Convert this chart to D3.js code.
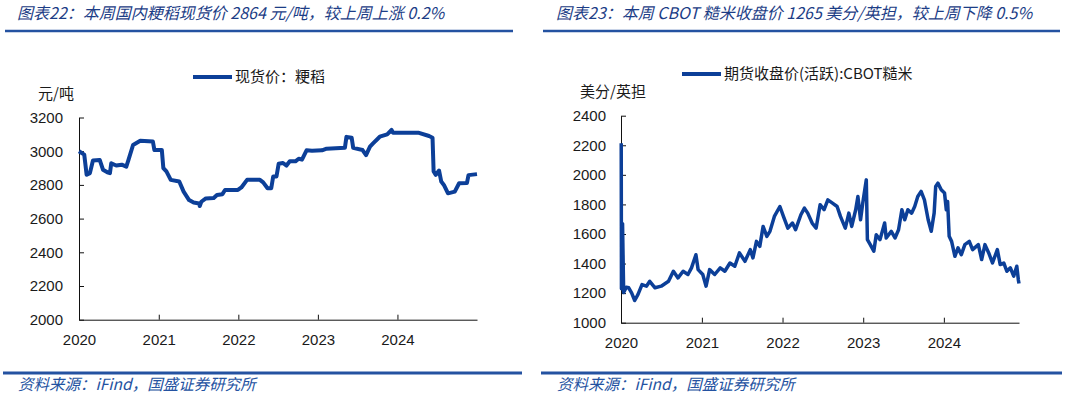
<!DOCTYPE html>
<html>
<head>
<meta charset="utf-8">
<script src="https://cdn.jsdelivr.net/npm/d3@7"></script>
<style>
  body { margin: 0; background: #fff; }
  svg { display: block; }
</style>
</head>
<body>
<div class="box"></div>
<script>
// Left: 粳稻现货价 (元/吨)
const spotDates = [
  "2020-01-01","2020-01-25","2020-02-05","2020-02-20","2020-03-05","2020-04-05","2020-04-20","2020-05-10",
  "2020-05-22","2020-05-28","2020-06-20","2020-07-15","2020-08-05","2020-08-15","2020-09-05","2020-10-08",
  "2020-12-05","2020-12-12","2021-01-15","2021-01-22","2021-02-05","2021-02-25","2021-04-05","2021-04-25",
  "2021-05-20","2021-06-10","2021-07-05","2021-07-08","2021-07-15","2021-08-05","2021-09-10","2021-09-25",
  "2021-10-20","2021-11-01","2021-12-30","2022-01-15","2022-02-10","2022-04-10","2022-04-25","2022-05-15",
  "2022-06-01","2022-06-10","2022-06-25","2022-07-05","2022-07-25","2022-08-10","2022-08-25","2022-09-20",
  "2022-10-05","2022-10-20","2022-11-10","2022-12-05","2023-01-20","2023-02-10","2023-05-05","2023-05-12",
  "2023-06-05","2023-06-12","2023-07-25","2023-08-10","2023-08-28","2023-09-10","2023-10-12","2023-11-15",
  "2023-12-05","2023-12-12","2024-04-05","2024-05-25","2024-06-10","2024-06-15","2024-06-25","2024-07-10",
  "2024-07-20","2024-08-01","2024-08-20","2024-09-20","2024-10-10","2024-11-15","2024-11-22","2024-12-31"
];
const spotValues = [
  3000,2980,2860,2870,2945,2948,2890,2875,
  2870,2928,2915,2920,2908,2948,3037,3062,
  3057,3007,3007,2900,2880,2830,2820,2760,
  2710,2695,2690,2675,2700,2720,2722,2740,
  2745,2770,2770,2785,2830,2830,2815,2780,
  2780,2850,2850,2925,2930,2915,2940,2940,
  2955,2950,3005,3003,3005,3015,3020,3085,
  3080,3020,3007,2977,3027,3045,3086,3100,
  3126,3110,3110,3090,3080,2880,2860,2885,
  2820,2800,2750,2760,2810,2812,2858,2864
];
const spotTicks = [2000, 2200, 2400, 2600, 2800, 3000, 3200];

// Right: CBOT糙米期货收盘价 (美分/英担)
const futDates = [
  "2020-01-02","2020-01-03","2020-01-08","2020-01-13","2020-01-25","2020-02-05","2020-02-18","2020-03-03",
  "2020-03-18","2020-04-05","2020-04-25","2020-05-10","2020-06-03","2020-07-01","2020-08-03","2020-08-25",
  "2020-09-15","2020-10-08","2020-10-30","2020-11-15","2020-12-05","2020-12-15","2021-01-05","2021-01-20",
  "2021-02-05","2021-02-28","2021-03-25","2021-04-15","2021-05-08","2021-05-30","2021-06-20","2021-07-15",
  "2021-08-08","2021-08-20","2021-09-05","2021-09-20","2021-10-05","2021-10-22","2021-11-05","2021-11-25",
  "2021-12-20","2022-01-05","2022-01-25","2022-02-15","2022-03-01","2022-03-25","2022-04-10","2022-04-25",
  "2022-05-15","2022-06-02","2022-06-20","2022-07-08","2022-07-25","2022-08-15","2022-09-05","2022-09-20",
  "2022-10-12","2022-10-28","2022-11-10","2022-11-28","2022-12-08","2022-12-20","2022-12-30","2023-01-15",
  "2023-01-20","2023-02-02","2023-02-18","2023-03-01","2023-03-18","2023-04-08","2023-04-15","2023-05-08",
  "2023-05-25","2023-06-10","2023-06-25","2023-07-08","2023-07-22","2023-08-08","2023-08-22","2023-09-05",
  "2023-09-20","2023-10-05","2023-10-22","2023-11-05","2023-11-18","2023-11-25","2023-12-05","2023-12-20",
  "2024-01-04","2024-01-12","2024-01-18","2024-01-25","2024-02-05","2024-02-20","2024-03-05","2024-03-20",
  "2024-04-05","2024-04-25","2024-05-10","2024-06-05","2024-06-20","2024-07-05","2024-07-22","2024-08-08",
  "2024-08-30","2024-09-12","2024-09-28","2024-10-12","2024-10-28","2024-11-12","2024-11-26","2024-12-03",
  "2024-12-06"
];
const futValues = [
  2214,1230,1670,1205,1240,1236,1202,1150,
  1191,1258,1247,1280,1236,1247,1280,1348,
  1303,1348,1326,1371,1460,1359,1326,1247,
  1359,1326,1371,1348,1404,1382,1472,1415,
  1494,1438,1550,1516,1651,1584,1618,1719,
  1786,1719,1640,1674,1629,1730,1775,1741,
  1674,1640,1798,1764,1831,1809,1786,1719,
  1640,1741,1651,1764,1854,1696,1809,1966,
  1562,1528,1483,1595,1562,1674,1573,1618,
  1573,1629,1764,1696,1764,1741,1786,1854,
  1888,1831,1696,1618,1741,1921,1944,1899,
  1877,1764,1820,1584,1550,1449,1506,1460,
  1528,1550,1494,1528,1427,1528,1472,1404,
  1494,1393,1404,1348,1371,1315,1382,1290,
  1265
];
const futTicks = [1000, 1200, 1400, 1600, 1800, 2000, 2200, 2400];

const yearTicks = ["2020", "2021", "2022", "2023", "2024"];

const parse = d3.timeParse("%Y-%m-%d");
const lineColor = "#0c3f98";
const titleColor = "#1c3d86";
const ruleColor = "#2452a1";
const tickFont = "'Liberation Sans', Arial, sans-serif";
const cjkFont = "'Noto Sans CJK SC', sans-serif";

const W = 1065, H = 398;
const svg = d3.select(".box").append("svg")
  .attr("width", W)
  .attr("height", H);

function drawPanel(cfg) {
  const g = svg.append("g");

  // title + rule
  g.append("text")
    .attr("x", cfg.titleX)
    .attr("y", 19)
    .attr("font-family", cjkFont)
    .attr("font-size", "16px")
    .attr("font-style", "italic")
    .attr("fill", titleColor)
    .text(cfg.title);
  g.append("line")
    .attr("x1", cfg.ruleX0).attr("x2", cfg.ruleX1)
    .attr("y1", 31).attr("y2", 31)
    .attr("stroke", ruleColor).attr("stroke-width", 2.5);

  // footer
  g.append("line")
    .attr("x1", cfg.ruleX0 - 2).attr("x2", cfg.footX1)
    .attr("y1", 373).attr("y2", 373)
    .attr("stroke", ruleColor).attr("stroke-width", 3);
  g.append("text")
    .attr("x", cfg.titleX + 1)
    .attr("y", 390)
    .attr("font-family", cjkFont)
    .attr("font-size", "15.5px")
    .attr("font-style", "italic")
    .attr("fill", ruleColor)
    .text("资料来源：iFind，国盛证券研究所");

  const x = d3.scaleTime()
    .domain([parse(cfg.dates[0].slice(0, 4) + "-01-01"), parse(cfg.dates[cfg.dates.length - 1])])
    .range([cfg.left, cfg.right]);
  const y = d3.scaleLinear()
    .domain([cfg.ticks[0], cfg.ticks[cfg.ticks.length - 1]])
    .range([cfg.bottom, cfg.top]);

  const xAxis = d3.axisBottom(x)
    .tickValues(yearTicks.map(s => parse(s + "-01-01")))
    .tickFormat(d3.timeFormat("%Y"))
    .tickSizeInner(-5).tickSizeOuter(0)
    .tickPadding(cfg.xPad);
  const yAxis = d3.axisLeft(y)
    .tickValues(cfg.ticks)
    .tickFormat(d3.format("d"))
    .tickSizeInner(-5).tickSizeOuter(0)
    .tickPadding(cfg.yPad);

  const gx = g.append("g")
    .attr("transform", "translate(0," + cfg.bottom + ")")
    .call(xAxis);
  const gy = g.append("g")
    .attr("transform", "translate(" + cfg.left + ",0)")
    .call(yAxis);
  [gx, gy].forEach(a => {
    a.select(".domain").attr("stroke", "#111");
    a.selectAll(".tick line").attr("stroke", "#111");
    a.selectAll("text")
      .attr("font-family", tickFont)
      .attr("font-size", "15px")
      .attr("fill", "#1a1a1a");
  });

  // unit
  g.append("text")
    .attr("x", cfg.unitX)
    .attr("y", cfg.unitY)
    .attr("font-family", cjkFont)
    .attr("font-size", "15px")
    .attr("fill", "#1a1a1a")
    .text(cfg.unit);

  // legend
  g.append("line")
    .attr("x1", cfg.legX).attr("x2", cfg.legX + 39)
    .attr("y1", cfg.legY).attr("y2", cfg.legY)
    .attr("stroke", lineColor).attr("stroke-width", 4);
  g.append("text")
    .attr("x", cfg.legX + 42)
    .attr("y", cfg.legY + 5)
    .attr("font-family", cjkFont)
    .attr("font-size", "15px")
    .attr("fill", "#1a1a1a")
    .text(cfg.legend);

  // series
  const pts = cfg.dates.map((d, i) => [parse(d), cfg.values[i]]);
  const line = d3.line()
    .x(d => x(d[0]))
    .y(d => y(d[1]));
  g.append("path")
    .datum(pts)
    .attr("d", line)
    .attr("fill", "none")
    .attr("stroke", lineColor)
    .attr("stroke-width", cfg.lineW)
    .attr("stroke-linejoin", "round");
}

drawPanel({
  title: "图表22：本周国内粳稻现货价 2864 元/吨，较上周上涨 0.2%",
  titleX: 17, ruleX0: 5, ruleX1: 513, footX1: 522,
  left: 79, right: 477, top: 117.5, bottom: 319.7,
  dates: spotDates, values: spotValues, ticks: spotTicks,
  xPad: 15, yPad: 16,
  unit: "元/吨", unitX: 38, unitY: 99,
  legend: "现货价：粳稻", legX: 193, legY: 77,
  lineW: 4
});

drawPanel({
  title: "图表23：本周 CBOT 糙米收盘价 1265 美分/英担，较上周下降 0.5%",
  titleX: 556, ruleX0: 543, ruleX1: 1060, footX1: 1062,
  left: 621, right: 1019, top: 115.7, bottom: 322.7,
  dates: futDates, values: futValues, ticks: futTicks,
  xPad: 15, yPad: 15,
  unit: "美分/英担", unitX: 580, unitY: 97,
  legend: "期货收盘价(活跃):CBOT糙米", legX: 682, legY: 74,
  lineW: 3.5
});
</script>
</body>
</html>
